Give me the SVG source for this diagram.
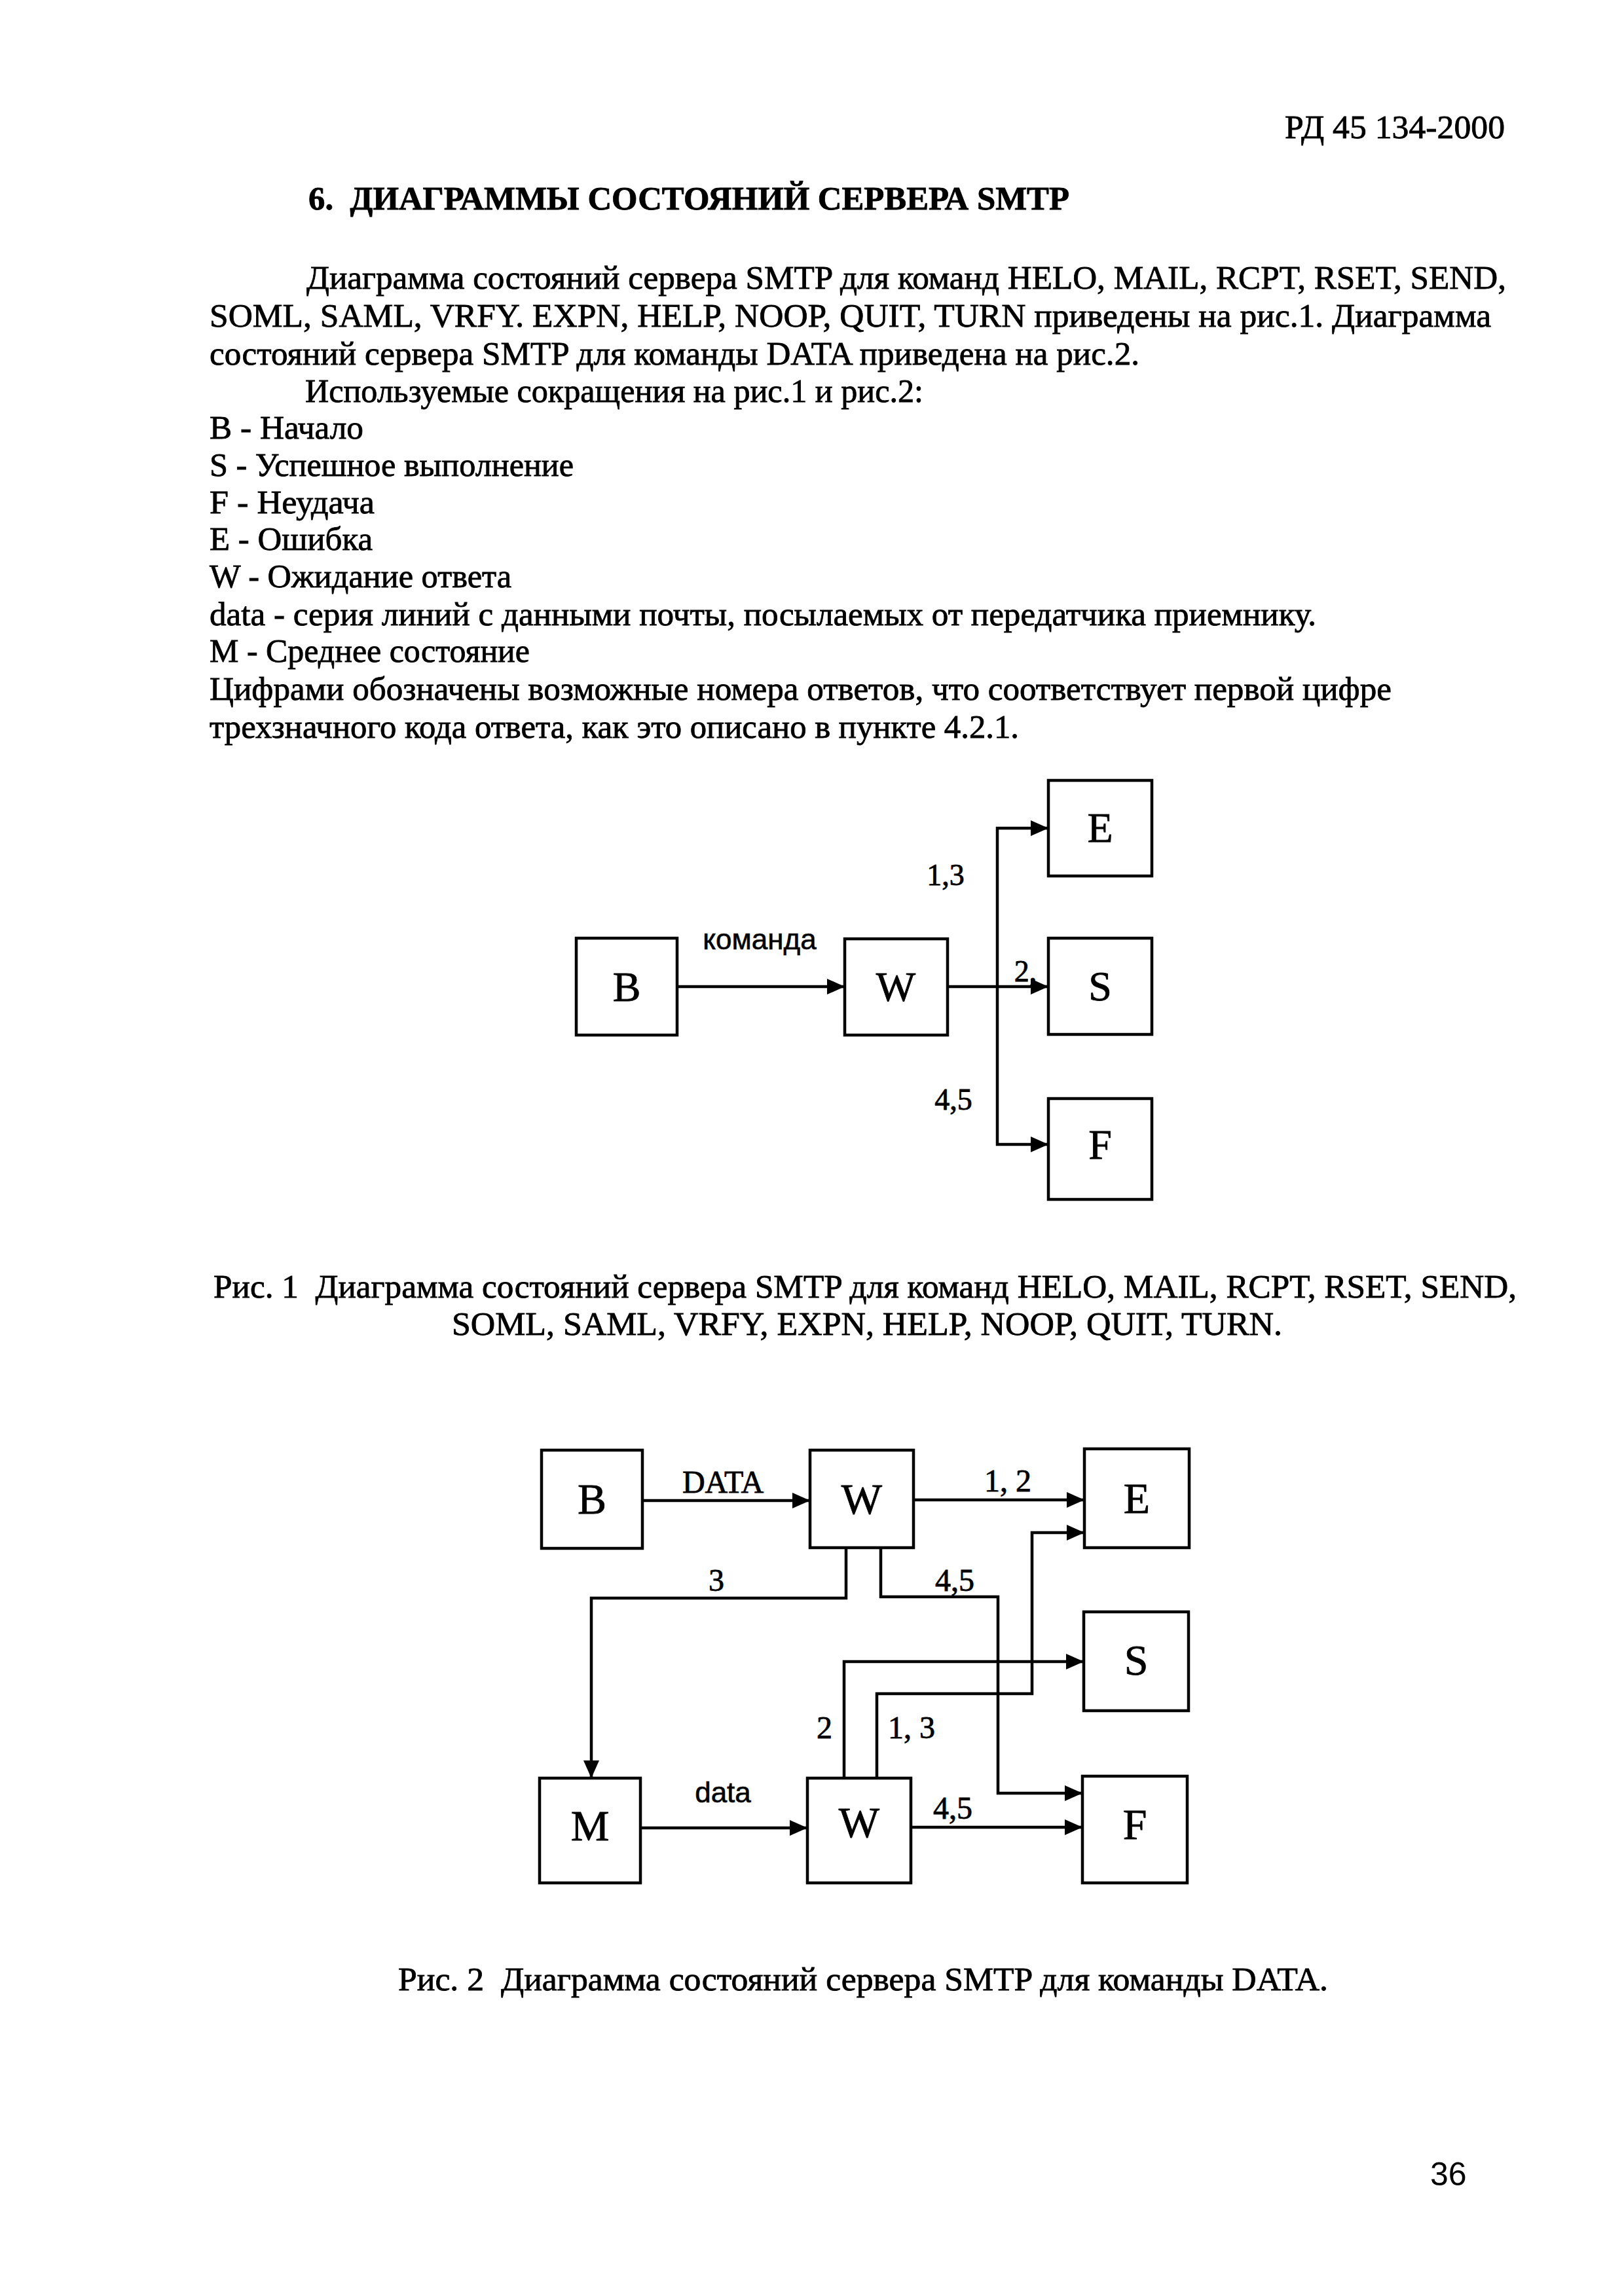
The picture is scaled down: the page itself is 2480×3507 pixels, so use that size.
<svg xmlns="http://www.w3.org/2000/svg" width="2480" height="3507" viewBox="0 0 2480 3507">
<defs>
<marker id="ah" markerUnits="userSpaceOnUse" markerWidth="28" markerHeight="24" refX="27" refY="12" orient="auto"><path d="M0,0 L27,12 L0,24 Z" fill="#000"/></marker>
</defs>
<style>
.t{font-family:"Liberation Serif","Times New Roman",serif;font-size:50px;fill:#000;stroke:#000;stroke-width:0.8px;white-space:pre}
.b{font-weight:bold}
.pg{font-family:"Liberation Sans",Arial,sans-serif;font-size:50px;fill:#000}
.box{fill:#fff;stroke:#000;stroke-width:4.5}
.ln{fill:none;stroke:#000;stroke-width:4.5;marker-end:url(#ah)}
.l1{font-family:"Liberation Serif","Times New Roman",serif;font-size:64px;text-anchor:middle;fill:#000;stroke:#000;stroke-width:0.8px}
.l2{font-family:"Liberation Serif","Times New Roman",serif;font-size:66px;text-anchor:middle;fill:#000;stroke:#000;stroke-width:0.8px}
.lb1{font-family:"Liberation Serif","Times New Roman",serif;font-size:46px;text-anchor:middle;fill:#000;stroke:#000;stroke-width:0.8px}
.lb2{font-family:"Liberation Serif","Times New Roman",serif;font-size:48px;text-anchor:middle;fill:#000;stroke:#000;stroke-width:0.8px}
.ls{font-family:"Liberation Sans",Arial,sans-serif;font-size:44px;text-anchor:middle;fill:#000;stroke:#000;stroke-width:0.6px}
</style>
<rect width="2480" height="3507" fill="#fff"/>

<g id="page-text">
<text class="t" x="1962" y="211" textLength="336" lengthAdjust="spacingAndGlyphs">РД 45 134-2000</text>
<text class="t b" x="471" y="320" textLength="1162" lengthAdjust="spacingAndGlyphs" xml:space="preserve">6.  ДИАГРАММЫ СОСТОЯНИЙ СЕРВЕРА SMTP</text>
<text class="t" x="468" y="441" textLength="1832" lengthAdjust="spacingAndGlyphs">Диаграмма состояний сервера SMTP для команд HELO, MAIL, RCPT, RSET, SEND,</text>
<text class="t" x="320" y="499" textLength="1957" lengthAdjust="spacingAndGlyphs">SOML, SAML, VRFY. EXPN, HELP, NOOP, QUIT, TURN приведены на рис.1. Диаграмма</text>
<text class="t" x="320" y="557" textLength="1420" lengthAdjust="spacingAndGlyphs">состояний сервера SMTP для команды DATA приведена на рис.2.</text>
<text class="t" x="466" y="614" textLength="944" lengthAdjust="spacingAndGlyphs">Используемые сокращения на рис.1 и рис.2:</text>
<text class="t" x="320" y="670" textLength="235" lengthAdjust="spacingAndGlyphs">B - Начало</text>
<text class="t" x="320" y="727" textLength="556" lengthAdjust="spacingAndGlyphs">S - Успешное выполнение</text>
<text class="t" x="320" y="784" textLength="252" lengthAdjust="spacingAndGlyphs">F - Неудача</text>
<text class="t" x="320" y="840" textLength="249" lengthAdjust="spacingAndGlyphs">E - Ошибка</text>
<text class="t" x="320" y="897" textLength="461" lengthAdjust="spacingAndGlyphs">W - Ожидание ответа</text>
<text class="t" x="320" y="955" textLength="1690" lengthAdjust="spacingAndGlyphs">data - серия линий с данными почты, посылаемых от передатчика приемнику.</text>
<text class="t" x="320" y="1011" textLength="489" lengthAdjust="spacingAndGlyphs">M - Среднее состояние</text>
<text class="t" x="320" y="1069" textLength="1805" lengthAdjust="spacingAndGlyphs">Цифрами обозначены возможные номера ответов, что соответствует первой цифре</text>
<text class="t" x="320" y="1127" textLength="1236" lengthAdjust="spacingAndGlyphs">трехзначного кода ответа, как это описано в пункте 4.2.1.</text>
<text class="t" x="326" y="1982" textLength="1990" lengthAdjust="spacingAndGlyphs" xml:space="preserve">Рис. 1  Диаграмма состояний сервера SMTP для команд HELO, MAIL, RCPT, RSET, SEND,</text>
<text class="t" x="690" y="2039" textLength="1268" lengthAdjust="spacingAndGlyphs">SOML, SAML, VRFY, EXPN, HELP, NOOP, QUIT, TURN.</text>
<text class="t" x="608" y="3040" textLength="1420" lengthAdjust="spacingAndGlyphs" xml:space="preserve">Рис. 2  Диаграмма состояний сервера SMTP для команды DATA.</text>
<text class="pg" x="2184" y="3338">36</text>
</g>

<!-- Figure 1 -->
<g id="fig1-connectors">
<path class="ln" d="M1034,1507 H1290"/>
<path class="ln" d="M1447,1507 H1601"/>
<path class="ln" d="M1523,1507 V1265 H1601"/>
<path class="ln" d="M1523,1507 V1748 H1601"/>
<text class="ls" x="1160" y="1450">команда</text>
<text class="lb1" x="1444" y="1352">1,3</text>
<text class="lb1" x="1566" y="1499">2,</text>
<text class="lb1" x="1456" y="1695">4,5</text>
</g>
<g id="fig1-B"><rect class="box" x="880" y="1433" width="154" height="148"/><text class="l1" x="957" y="1529">B</text></g>
<g id="fig1-W"><rect class="box" x="1290" y="1434" width="157" height="147"/><text class="l1" x="1368" y="1529">W</text></g>
<g id="fig1-E"><rect class="box" x="1601" y="1192" width="158" height="146"/><text class="l1" x="1680" y="1286">E</text></g>
<g id="fig1-S"><rect class="box" x="1601" y="1433" width="158" height="147"/><text class="l1" x="1680" y="1528">S</text></g>
<g id="fig1-F"><rect class="box" x="1601" y="1678" width="158" height="154"/><text class="l1" x="1680" y="1770">F</text></g>

<!-- Figure 2 -->
<g id="fig2-connectors">
<path class="ln" d="M981,2292 H1237"/>
<path class="ln" d="M1395,2291 H1656"/>
<path class="ln" d="M1292,2364 V2441 H903 V2716"/>
<path class="ln" d="M1345,2364 V2439 H1524 V2739 H1653"/>
<path class="ln" d="M1289,2716 V2538 H1655"/>
<path class="ln" d="M1339,2716 V2587 H1576 V2341 H1656"/>
<path class="ln" d="M978,2792 H1233"/>
<path class="ln" d="M1391,2791 H1653"/>
<text class="lb2" x="1104" y="2280">DATA</text>
<text class="lb2" x="1539" y="2278">1, 2</text>
<text class="lb2" x="1094" y="2430">3</text>
<text class="lb2" x="1458" y="2430">4,5</text>
<text class="ls" x="1104" y="2753">data</text>
<text class="lb2" x="1455" y="2778">4,5</text>
<text class="lb2" x="1259" y="2655">2</text>
<text class="lb2" x="1392" y="2655">1, 3</text>
</g>
<g id="fig2-B"><rect class="box" x="827" y="2215" width="154" height="150"/><text class="l2" x="904" y="2312">B</text></g>
<g id="fig2-W1"><rect class="box" x="1237" y="2215" width="158" height="149"/><text class="l2" x="1316" y="2312">W</text></g>
<g id="fig2-E"><rect class="box" x="1656" y="2213" width="160" height="151"/><text class="l2" x="1736" y="2311">E</text></g>
<g id="fig2-S"><rect class="box" x="1655" y="2462" width="160" height="151"/><text class="l2" x="1735" y="2558">S</text></g>
<g id="fig2-F"><rect class="box" x="1653" y="2713" width="160" height="163"/><text class="l2" x="1733" y="2809">F</text></g>
<g id="fig2-M"><rect class="box" x="824" y="2716" width="154" height="160"/><text class="l2" x="901" y="2811">M</text></g>
<g id="fig2-W2"><rect class="box" x="1233" y="2716" width="158" height="160"/><text class="l2" x="1312" y="2806">W</text></g>
</svg>
